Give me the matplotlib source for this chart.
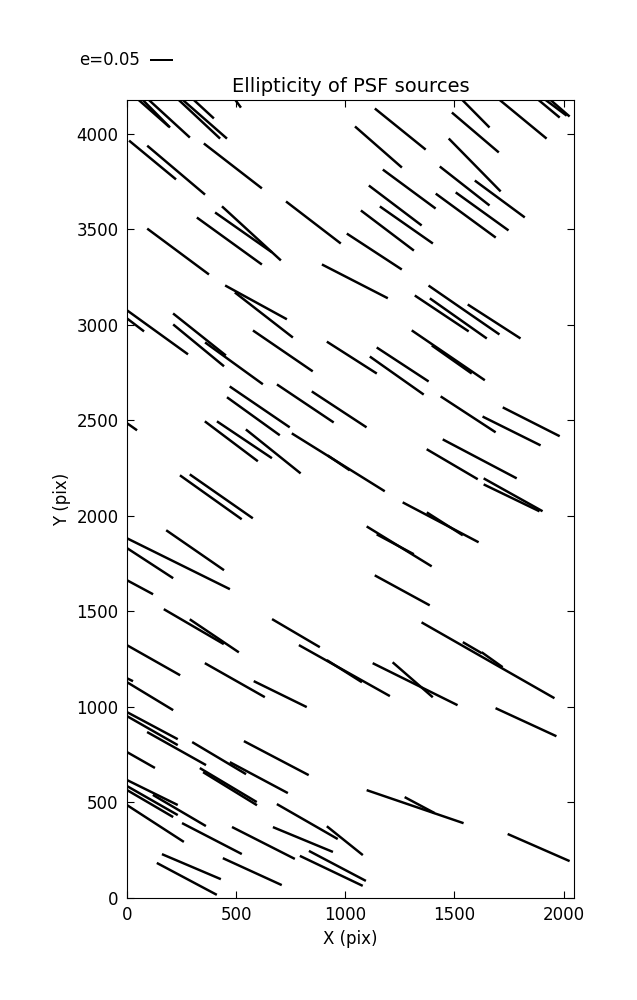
import numpy as np
import matplotlib
matplotlib.use('Agg')
import matplotlib.pyplot as plt

# ## Source positions (pix) and ellipticity sticks (dx, dy in pix units)
x_src = [121, 133, 192, 330, 355, 350, 508, 117, 225, 485, 234, 469, 534, 570, 591, 627,
         1252, 1152, 1293, 1229, 1280, 1193, 854, 1133, 1044,
         1597, 1596, 1813, 1932, 1964, 1982, 1593, 1547, 1708, 1552, 1627,
         140, 39, 332, 328, 490, 714, 608, 579, 23, 478, 538, 670, 384, 432,
         1030, 1263, 1236, 817, 972, 968, 970,
         1442, 1518, 1544, 1682, 1472, 1488, 1563, 1762, 1852, 1616, 1490, 1769, 1762,
         312, 236, 106, 60, 306, 400, 122, 494, 702, 14, 106,
         1437, 1456, 1247, 1229, 1261, 774, 996, 996, 1320, 1309, 1654, 1582, 1673,
         116, 116, 227, 422, 604, 684, 64, 464, 472, 116, 116, 106, 240, 130,
         389, 625, 295, 274, 574, 826, 998, 806, 964, 936, 1320, 1341, 1828, 1886]
y_src = [4108, 4106, 4080, 4077, 4077, 4130, 4158, 3862, 3809, 3831, 3383, 3438, 3483, 3478, 3117, 3051,
         4024, 3930, 3710, 3624, 3522, 3493, 3535, 3383, 3227,
         4106, 4006, 4077, 4132, 4137, 4135, 3836, 3726, 3658, 3571, 3593,
         2960, 2999, 2949, 2892, 2798, 2863, 2570, 2521, 2466, 2390, 2398, 2337, 2097, 2102,
         2828, 2792, 2734, 2588, 2557, 2280, 2277,
         3059, 3033, 3077, 3017, 2840, 2818, 2531, 2444, 2492, 2298, 2270, 2110, 2094,
         1820, 1749, 1752, 1626, 1420, 1372, 1244, 1140, 1067, 1142, 1056,
         1966, 1958, 1840, 1851, 1610, 1386, 1190, 1187, 1119, 1142, 1244, 1310, 1247,
         902, 876, 782, 732, 630, 732, 722, 591, 572, 552, 510, 494, 458, 390,
         311, 288, 164, 100, 138, 400, 300, 306, 168, 142, 478, 486, 920, 264]
dx = [142, 128, 192, 193, 206, 96, 28, 215, 265, 266, 283, 298, 261, 270, 283, 266,
      233, 215, 242, 242, 243, 243, 251, 252, 302,
      128, 215, 219, 101, 101, 92, 238, 228, 229, 275, 242,
      279, 78, 242, 233, 265, 274, 275, 242, 46, 243, 252, 251, 283, 289,
      229, 238, 247, 260, 251, 426, 101,
      247, 261, 325, 242, 335, 183, 252, 266, 261, 339, 234, 270, 256,
      265, 471, 211, 119, 275, 225, 243, 275, 243, 27, 211,
      348, 165, 298, 170, 252, 219, 417, 161, 389, 184, 609, 87, 96,
      233, 233, 270, 247, 266, 297, 128, 261, 247, 233, 233, 211, 243, 261,
      274, 288, 270, 275, 270, 279, 165, 275, 261, 288, 444, 138, 279, 284]
dy = [-143, -148, -201, -206, -206, -101, -44, -203, -256, -235, -240, -246, -209, -283, -177, -236,
      -215, -215, -204, -209, -194, -210, -220, -188, -177,
      -148, -209, -206, -96, -86, -91, -277, -204, -193, -230, -199,
      -230, -68, -220, -219, -219, -214, -214, -199, -37, -209, -193, -230, -230, -230,
      -167, -178, -199, -199, -188, -303, -78,
      -188, -210, -256, -178, -261, -147, -188, -151, -151, -204, -157, -172, -141,
      -209, -266, -157, -73, -183, -173, -157, -178, -136, -15, -146,
      -209, -120, -209, -104, -157, -147, -267, -116, -220, -183, -397, -58, -78,
      -142, -152, -173, -168, -162, -178, -83, -178, -173, -131, -152, -141, -163, -193,
      -162, -167, -131, -167, -141, -183, -151, -130, -157, -157, -173, -84, -147, -142]

key_e = 0.05
key_len = 106         # pix length of an e=0.05 stick

plt.rcParams['font.size'] = 12
plt.rcParams['xtick.direction'] = 'in'
plt.rcParams['ytick.direction'] = 'in'
plt.rcParams['xtick.top'] = True
plt.rcParams['ytick.right'] = True
plt.rcParams['xtick.major.size'] = 5
plt.rcParams['ytick.major.size'] = 5
plt.rcParams['xtick.major.pad'] = 6
plt.rcParams['ytick.major.pad'] = 6

fig = plt.figure(figsize=(6.37, 10), dpi=100)
ax = fig.add_axes([0.1994, 0.102, 0.7017, 0.798])

Q = ax.quiver(x_src, y_src, dx, dy, angles='xy', scale_units='xy', scale=1,
              pivot='middle', headwidth=0, headlength=0, headaxislength=0,
              width=0.0055, color='k')
ax.quiverkey(Q, 0.235, 0.94, key_len, f'e={key_e}', labelpos='W',
             coordinates='figure', fontproperties={'size': 12})

ax.set_xlim(0, 2048)
ax.set_ylim(0, 4176)
ax.set_xticks([0, 500, 1000, 1500, 2000])
ax.set_yticks([0, 500, 1000, 1500, 2000, 2500, 3000, 3500, 4000])
ax.set_xlabel('X (pix)')
ax.set_ylabel('Y (pix)')
ax.set_title('Ellipticity of PSF sources', fontsize=14)

plt.savefig('out.png')
plt.close()
